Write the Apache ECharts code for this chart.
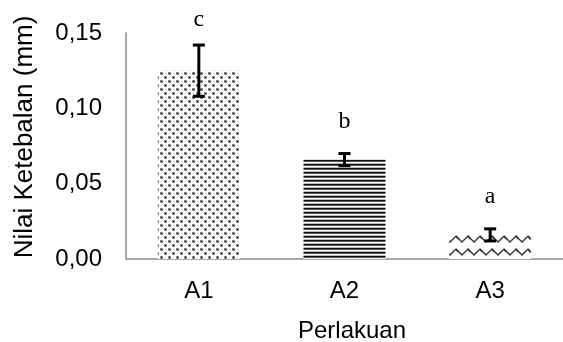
<!DOCTYPE html>
<html><head><meta charset="utf-8">
<script src="https://cdn.jsdelivr.net/npm/echarts@6/dist/echarts.min.js"></script>
<style>html,body{margin:0;padding:0;background:#fff}#c{width:563px;height:342px}</style>
</head><body><div id="c"></div>
<script>
var categories = ['A1', 'A2', 'A3'];
var values = [0.125, 0.066, 0.016];
var errors = [0.017, 0.004, 0.004];
var letters = ['c', 'b', 'a'];
var yTicks = [0, 0.05, 0.10, 0.15];

function tile(w, h, draw) {
  var c = document.createElement('canvas'); c.width = w; c.height = h;
  var g = c.getContext('2d'); g.fillStyle = '#fff'; g.fillRect(0, 0, w, h); draw(g); return c;
}
var dots = tile(8, 8, function (g) {
  g.fillStyle = '#888';
  [[0,0],[4,4]].forEach(function(p){ g.fillRect(p[0], p[1], 3, 3); });
  g.fillStyle = '#111';
  [[1,1],[5,5]].forEach(function(p){ g.fillRect(p[0], p[1], 1, 1); });
  g.fillStyle = '#aaa';
  [[0,4],[4,0]].forEach(function(p){ g.fillRect(p[0]+1, p[1]+1, 1, 1); });
});
var stripes = tile(4, 4, function (g) {
  g.fillStyle = '#111'; g.fillRect(0, 0, 4, 1);
  g.fillStyle = '#555'; g.fillRect(0, 1, 4, 1);
  g.fillStyle = '#bbb'; g.fillRect(0, 3, 4, 1);
});
var waves = tile(24, 13, function (g) {
  g.strokeStyle = '#333'; g.lineWidth = 1.4;
  g.beginPath();
  g.moveTo(0, 2); g.lineTo(6, 8); g.lineTo(12, 2); g.lineTo(18, 8); g.lineTo(24, 2);
  g.stroke();
  g.beginPath();
  g.moveTo(12, 2); g.lineTo(14, 5);
  g.moveTo(0, 2); g.lineTo(2, 5);
  g.moveTo(24, 2); g.lineTo(26, 5);
  g.stroke();
});
var patterns = [dots, stripes, waves];

var chart = echarts.init(document.getElementById('c'));
var font = 'Liberation Sans';
chart.setOption({
  animation: false,
  grid: { left: 126, right: -4, top: 33, bottom: 83 },
  xAxis: {
    type: 'category', data: categories,
    axisLine: { lineStyle: { color: '#8c8c8c', width: 1.5 } },
    axisTick: { show: false },
    axisLabel: { fontFamily: font, fontSize: 24, color: '#000', margin: 20 }
  },
  yAxis: {
    type: 'value', min: yTicks[0], max: yTicks[yTicks.length - 1], interval: 0.05,
    axisLine: { show: true, lineStyle: { color: '#8c8c8c', width: 1.5 } },
    axisTick: { show: false },
    splitLine: { show: false },
    axisLabel: { fontFamily: font, fontSize: 24, color: '#000', margin: 24,
      formatter: function (v) { return v.toFixed(2).replace('.', ','); } }
  },
  graphic: [
    { type: 'text', x: 25, y: 137, rotation: Math.PI / 2,
      style: { text: 'Nilai Ketebalan (mm)', font: '26px "Liberation Sans"', fill: '#000', align: 'center', verticalAlign: 'middle' } },
    { type: 'text', x: 352, y: 331,
      style: { text: 'Perlakuan', font: '24px "Liberation Sans"', fill: '#000', align: 'center', verticalAlign: 'middle' } }
  ],
  series: [
    {
      type: 'bar', barWidth: 82,
      data: values.map(function (v, i) {
        return { value: v, itemStyle: { color: { image: patterns[i], repeat: 'repeat' } } };
      })
    },
    {
      type: 'custom', z: 5,
      data: values.map(function (v, i) { return [i, v, errors[i]]; }),
      renderItem: function (params, api) {
        var i = api.value(0), v = api.value(1), e = api.value(2);
        var top = api.coord([i, v + e]), bot = api.coord([i, v - e]);
        var x = top[0], cap = 6;
        var st = { stroke: '#000', lineWidth: 3 };
        return { type: 'group', children: [
          { type: 'line', shape: { x1: x, y1: top[1], x2: x, y2: bot[1] }, style: st },
          { type: 'line', shape: { x1: x - cap, y1: top[1], x2: x + cap, y2: top[1] }, style: st },
          { type: 'line', shape: { x1: x - cap, y1: bot[1], x2: x + cap, y2: bot[1] }, style: st },
          { type: 'text', style: { text: letters[params.dataIndex], x: x, y: Math.max(top[1] - 32, 20),
            font: '24px "Liberation Serif"', fill: '#000', align: 'center', verticalAlign: 'middle' } }
        ] };
      }
    }
  ]
});
</script></body></html>
